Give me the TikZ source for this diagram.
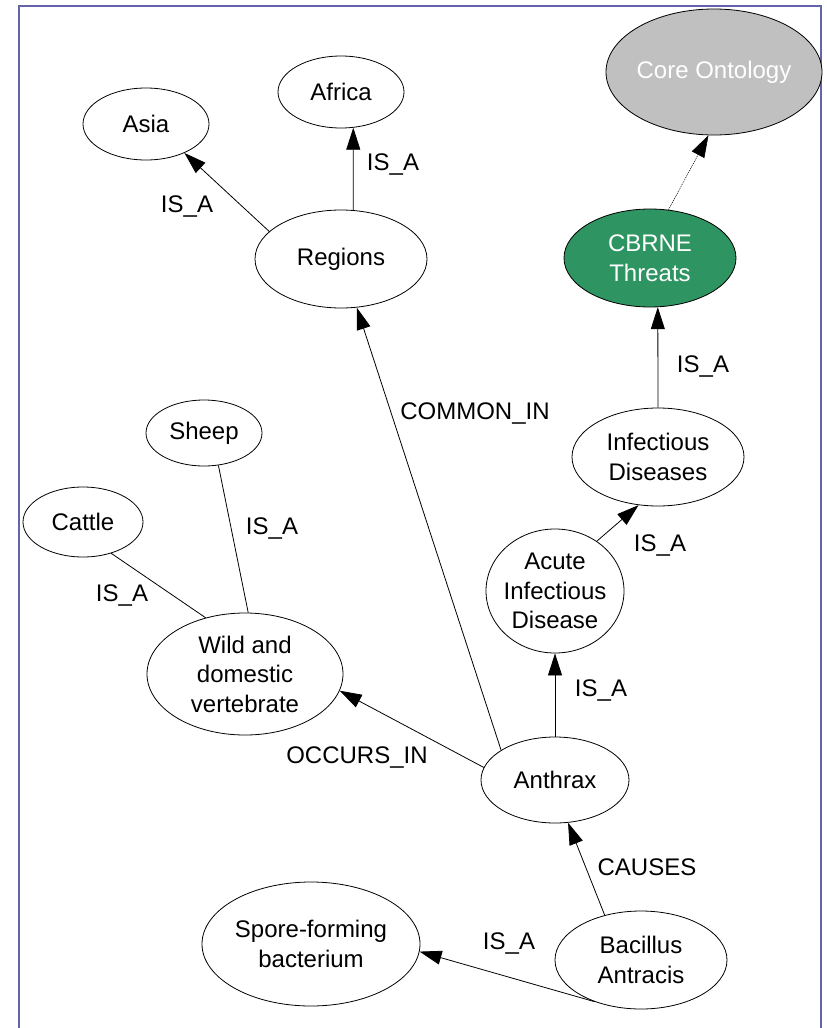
\documentclass[tikz,border=0pt]{standalone}
\usepackage{fontspec}
\setmainfont{Liberation Sans}
\usetikzlibrary{shapes.geometric,arrows.meta}
\definecolor{framec}{RGB}{100,100,170}
\definecolor{cbrnec}{RGB}{46,148,98}
\definecolor{coregray}{RGB}{192,192,192}
\begin{document}
\begin{tikzpicture}[x=1pt,y=-1pt,
  ell/.style={ellipse, draw, line width=0.8pt, inner sep=0pt},
  txt/.style={font=\fontsize{24}{29.5}\selectfont, align=center, inner sep=0pt},
  lab/.style={font=\fontsize{24}{29.5}\selectfont, inner sep=0pt},
  arr/.style={-{Triangle[length=22pt,width=14pt]}, line width=0.8pt},
  plainline/.style={line width=0.8pt}
]
\useasboundingbox (0,0) rectangle (827,1028);
\fill[white] (0,0) rectangle (827,1028);
\draw[framec, line width=1.5pt] (19,1028) -- (19,6) -- (821,6) -- (821,1028);

% nodes
\node[ell, minimum width=126, minimum height=72, label={[txt]center:Asia}] (asia) at (146,124) {};
\node[ell, minimum width=126, minimum height=72, label={[txt]center:Africa}] (africa) at (341,92) {};
\node[ell, minimum width=172, minimum height=98, label={[txt]center:Regions}] (reg) at (341,259) {};
\node[ell, fill=coregray, minimum width=216, minimum height=126, label={[txt, text=white]center:Core Ontology}] (core) at (714,72) {};
\node[ell, fill=cbrnec, minimum width=172, minimum height=98, label={[txt, text=white]center:{CBRNE\\Threats}}] (cb) at (650,258) {};
\node[ell, minimum width=172, minimum height=98, label={[txt]center:{Infectious\\Diseases}}] (inf) at (658,457) {};
\node[ell, minimum width=138, minimum height=124, label={[txt]center:{Acute\\Infectious\\Disease}}] (acute) at (555,591) {};
\node[ell, minimum width=116, minimum height=66, label={[txt]center:Sheep}] (sheep) at (204,433) {};
\node[ell, minimum width=120, minimum height=70, label={[txt]center:Cattle}] (cattle) at (83,522) {};
\node[ell, minimum width=196, minimum height=122, label={[txt]center:{Wild and\\domestic\\vertebrate}}] (wild) at (245,674) {};
\node[ell, minimum width=148, minimum height=86, label={[txt]center:Anthrax}] (anth) at (555,780) {};
\node[ell, minimum width=172, minimum height=98, label={[txt]center:{Bacillus\\Antracis}}] (bac) at (641,960) {};
\node[ell, minimum width=218, minimum height=124, label={[txt]center:{Spore-forming\\bacterium}}] (spore) at (311,944) {};

% connectors
\draw[arr] (reg.159) -- (asia.323);
\draw[arr] (reg.76) -- (africa.289);
\draw[arr] (anth.151) -- (reg.288);
\draw[-{Triangle[length=22pt,width=14pt]}, line width=0.6pt, dash pattern=on 1pt off 1pt] (cb.69) -- (core.265);
\draw[arr] (inf.north) -- (cb.279);
\draw[arr] (acute.50) -- (inf.248);
\draw[arr] (anth.north) -- (acute.south);
\draw[arr] (anth.170) -- (wild.350);
\draw[plainline] (sheep.294) -- (wild.87);
\draw[plainline] (cattle.312) -- (wild.125);
\draw[arr] (bac.129) -- (anth.287);
\draw[arr] (bac.222) -- (spore.356);

% labels
\node[lab] (l1) at (187,207) {IS\_A};
\node[lab] (l2) at (393,165) {IS\_A};
\node[lab] (l3) at (475,413) {COMMON\_IN};
\node[lab] (l4) at (703,367) {IS\_A};
\node[lab] (l5) at (660,545) {IS\_A};
\node[lab] (l6) at (272,528) {IS\_A};
\node[lab] (l7) at (122,595) {IS\_A};
\node[lab] (l8) at (601,690) {IS\_A};
\node[lab] (l9) at (357,757) {OCCURS\_IN};
\node[lab] (l10) at (647,867) {CAUSES};
\node[lab] (l11) at (509,943) {IS\_A};
\end{tikzpicture}
\end{document}
